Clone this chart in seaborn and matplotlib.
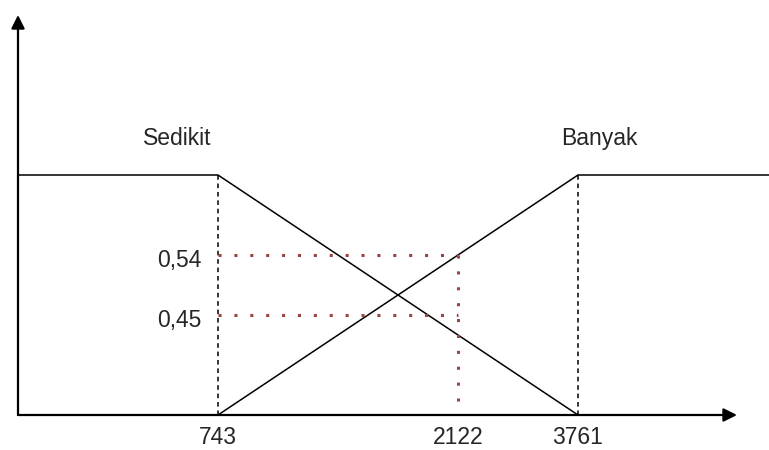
import numpy as np
import pandas as pd
import seaborn as sns
import matplotlib
matplotlib.use('Agg')
import matplotlib.pyplot as plt

# membership function breakpoints
x_ticks = [743, 2122, 3761]
tick_labels = ['743', '2122', '3761']
sedikit_x = [0, 743, 3761]
sedikit_mu = [1, 1, 0]
banyak_x = [743, 3761, 6000]
banyak_mu = [0, 1, 1]
x_input = 2122
mu_values = [0.54, 0.45]
mu_labels = ['0,54', '0,45']

sns.set_theme(style='white')
plt.rcParams['font.family'] = ['Liberation Sans', 'DejaVu Sans']

# schematic (piecewise) scales so the diagram keeps its drawn proportions
xd = [0, 743, 2122, 3761, 6000]
xp = [0, 200, 440, 560, 751]
yd = [0, 0.45, 0.54, 1, 1.75]
yp = [0, 100, 160, 240, 415]

def fwd_x(v):
    return np.interp(v, xd, xp)

def inv_x(v):
    return np.interp(v, xp, xd)

def fwd_y(v):
    return np.interp(v, yd, yp)

def inv_y(v):
    return np.interp(v, yp, yd)

fig = plt.figure(figsize=(7.69, 4.5), dpi=100)
ax = fig.add_axes([18 / 769, 35 / 450, 751 / 769, 415 / 450])
ax.set_xscale('function', functions=(fwd_x, inv_x))
ax.set_yscale('function', functions=(fwd_y, inv_y))

df = pd.DataFrame({
    'x': sedikit_x + banyak_x,
    'mu': sedikit_mu + banyak_mu,
    'set': ['Sedikit'] * 3 + ['Banyak'] * 3,
})
sns.lineplot(data=df, x='x', y='mu', hue='set', palette=['black', 'black'],
             lw=1.1, legend=False, sort=False, ax=ax, estimator=None)

# dashed verticals at the breakpoints
ax.vlines([x_ticks[0], x_ticks[2]], 0, 1, colors='black', lw=1.1,
          linestyles=(0, (3, 2.5)))

# red dotted guide lines
red = '#9a4444'
for mu in mu_values:
    ax.plot([x_ticks[0], x_input], [mu, mu], color=red, lw=2.2,
            linestyle=(0, (1, 4.2)))
ax.plot([x_input, x_input], [max(mu_values), 0], color=red, lw=2.2,
        linestyle=(0, (1, 4.2)))

ax.set_xlim(0, 6000)
ax.set_ylim(0, 1.75)

# labels
fs = 16.5
ax.annotate('Sedikit', xy=(x_ticks[0], 1), xytext=(-29, 26),
            textcoords='offset points', ha='center', va='center', fontsize=fs)
ax.annotate('Banyak', xy=(x_ticks[2], 1), xytext=(15, 26),
            textcoords='offset points', ha='center', va='center', fontsize=fs)
for mu, lab in zip(mu_values, mu_labels):
    ax.annotate(lab, xy=(x_ticks[0], mu), xytext=(-12, -4),
                textcoords='offset points', ha='right', va='center', fontsize=fs)

ax.set_xticks(x_ticks)
ax.set_xticklabels(tick_labels, fontsize=fs)
ax.set_yticks([])
ax.tick_params(axis='x', length=0, pad=8)
ax.set_xlabel('')
ax.set_ylabel('')
for s in ax.spines.values():
    s.set_visible(False)

# axis arrows
arrow = dict(arrowstyle='-|>', color='black', lw=1.6, mutation_scale=20,
             shrinkA=0, shrinkB=0)
ax.annotate('', xy=(719 / 751, 0), xytext=(0, 0), xycoords='axes fraction',
            arrowprops=arrow)
ax.annotate('', xy=(0, 400 / 415), xytext=(0, 0), xycoords='axes fraction',
            arrowprops=arrow)

fig.savefig('out.png', dpi=100)
